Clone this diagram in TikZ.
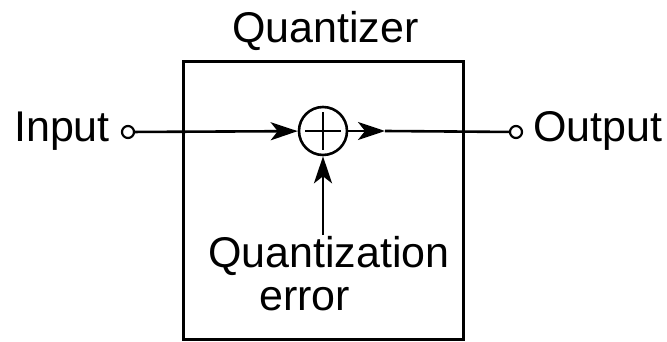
\documentclass[tikz,border=0pt]{standalone}
\usepackage{fontspec}
\setmainfont{Liberation Sans}
\usetikzlibrary{arrows.meta}
\begin{document}
\begin{tikzpicture}[x=1pt,y=-1pt,
  lbl/.style={inner sep=0pt,anchor=base west,font=\fontsize{43}{50}\selectfont},
  port/.style={circle,draw,line width=2.2pt,minimum size=12pt,inner sep=0pt,fill=white},
  wire/.style={line width=2.6pt},
  tip/.style={-{Stealth[length=27pt,width=18pt,inset=7pt]}}]
\useasboundingbox (0,0) rectangle (667,342);
\node[draw,line width=3.2pt,minimum width=280pt,minimum height=278pt,inner sep=0pt] (box) at (323.5,200.5) {};
\node[circle,draw,line width=2.6pt,minimum size=48pt,inner sep=0pt] (sum) at (323,131) {};
\draw[wire] ([xshift=-18pt]sum.center) -- ([xshift=18pt]sum.center);
\draw[wire] ([yshift=-19pt]sum.center) -- ([yshift=19pt]sum.center);
\node[port] (in) at (128,132) {};
\node[port] (out) at (516,132) {};
\coordinate (mid) at (385,131);
\coordinate (errtop) at (323,235);
\draw[wire,tip] (in) -- (sum);
\draw[wire,tip] (sum) -- (mid);
\draw[wire] (mid) -- (out);
\draw[wire,tip] (errtop) -- (sum);
\node[lbl] (tin) at (14,142) {Input};
\node[lbl] (tout) at (533,142) {Output};
\node[lbl] (tq) at (232,43) {Quantizer};
\node[lbl] (tqe) at (208,267) {Quantization};
\node[lbl] (terr) at (259,310) {error};
\end{tikzpicture}
\end{document}
